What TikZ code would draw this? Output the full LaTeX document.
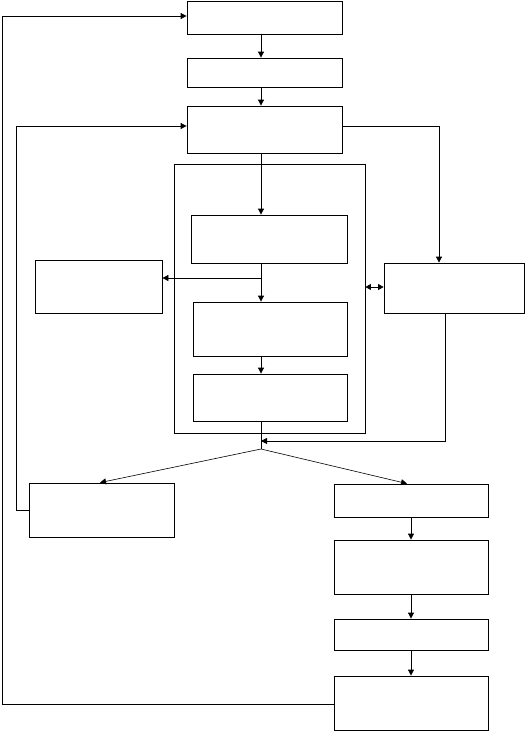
\documentclass[tikz,border=0pt]{standalone}
\usetikzlibrary{arrows.meta}
\begin{document}
\begin{tikzpicture}[x=1pt,y=-1pt,
  box/.style={draw,line width=0.8pt,rectangle,inner sep=0pt},
  tip/.style={},
  arr/.style={line width=0.8pt,-{Triangle[length=6pt,width=6pt]}},
  ln/.style={line width=0.8pt}]
\useasboundingbox (0,0) rectangle (525,731);
\node[box,minimum width=155pt,minimum height=33pt] (B1) at (264.5,17.5) {};
\node[box,minimum width=155pt,minimum height=29pt] (B2) at (264.5,72.5) {};
\node[box,minimum width=155pt,minimum height=47pt] (B3) at (264.5,129.5) {};
\node[box,minimum width=191pt,minimum height=269pt] (C) at (269.5,298.5) {};
\node[box,minimum width=156pt,minimum height=48pt] (I1) at (269,239) {};
\node[box,minimum width=154pt,minimum height=54pt] (I2) at (270,329) {};
\node[box,minimum width=154pt,minimum height=47pt] (I3) at (270,397.5) {};
\node[box,minimum width=127pt,minimum height=53pt] (LB) at (98.5,286.5) {};
\node[box,minimum width=140pt,minimum height=50pt] (R) at (454,288) {};
\node[box,minimum width=145pt,minimum height=54pt] (L) at (101.5,510) {};
\node[box,minimum width=154pt,minimum height=33pt] (RC1) at (411,500.5) {};
\node[box,minimum width=154pt,minimum height=54pt] (RC2) at (411,567) {};
\node[box,minimum width=154pt,minimum height=31pt] (RC3) at (411,634.5) {};
\node[box,minimum width=154pt,minimum height=54pt] (RC4) at (411,703) {};
\coordinate (cx) at (261,0);
\coordinate (br) at (261,278);
\coordinate (J) at (261,449);
\coordinate (lo1) at (2,704);
\coordinate (lo2) at (2,16);
\coordinate (li1) at (16,510);
\coordinate (li2) at (16,126);
\coordinate (rt1) at (439,126);
\coordinate (rb1) at (445,313);
\coordinate (rb2) at (445,441);
% main column
\draw[arr] (B1.south -| cx) -- (B2.north -| cx);
\draw[arr] (B2.south -| cx) -- (B3.north -| cx);
\draw[arr] (B3.south -| cx) -- (I1.north -| cx);
\draw[arr] (I1.south -| cx) -- (I2.north -| cx);
\draw[arr] (br) -- (LB.east |- br);
\draw[arr] (I2.south -| cx) -- (I3.north -| cx);
\draw[ln] (I3.south -| cx) -- (J);
\draw[line width=0.8pt,{Triangle[length=5.5pt,width=6pt]}-{Triangle[length=5.5pt,width=6pt]}] (C.east |- 0,287) -- (R.west |- 0,287);
% right branch
\draw[arr] (B3.east |- rt1) -- (rt1) -- (rt1 |- R.north);
\draw[arr] (rb1) -- (rb2) -- (rb2 -| cx);
% fan
\draw[line width=0.6pt,-{Triangle[length=6pt,width=6pt]}] (J) -- (L.north -| 100,0);
\draw[line width=0.6pt,-{Triangle[length=6pt,width=6pt]}] (J) -- (RC1.north -| 407,0);
% right column
\draw[arr] (RC1) -- (RC2);
\draw[arr] (RC2) -- (RC3);
\draw[arr] (RC3) -- (RC4);
% loops
\draw[arr] (L.west |- li1) -- (li1) -- (li2) -- (B3.west |- li2);
\draw[arr] (RC4.west |- lo1) -- (lo1) -- (lo2) -- (B1.west |- lo2);
\end{tikzpicture}
\end{document}
